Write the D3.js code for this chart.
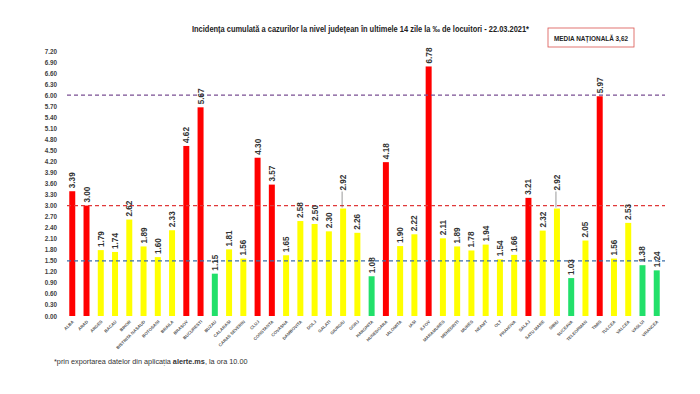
<!DOCTYPE html>
<html><head><meta charset="utf-8">
<script src="https://cdn.jsdelivr.net/npm/d3@7"></script>
<style>body{margin:0;background:#fff}svg{display:block}</style>
</head><body>
<script>
const counties = ["ALBA","ARAD","ARGES","BACAU","BIHOR","BISTRITA NASAUD","BOTOSANI","BRAILA","BRASOV","BUCURESTI","BUZAU","CALARASI","CARAS SEVERIN","CLUJ","CONSTANTA","COVASNA","DAMBOVITA","DOLJ","GALATI","GIURGIU","GORJ","HARGHITA","HUNEDOARA","IALOMITA","IASI","ILFOV","MARAMURES","MEHEDINTI","MURES","NEAMT","OLT","PRAHOVA","SALAJ","SATU MARE","SIBIU","SUCEAVA","TELEORMAN","TIMIS","TULCEA","VALCEA","VASLUI","VRANCEA"];
const values = [3.39,3.00,1.79,1.74,2.62,1.89,1.60,2.33,4.62,5.67,1.15,1.81,1.56,4.30,3.57,1.65,2.58,2.50,2.30,2.92,2.26,1.08,4.18,1.90,2.22,6.78,2.11,1.89,1.78,1.94,1.54,1.66,3.21,2.32,2.92,1.03,2.05,5.97,1.56,2.53,1.38,1.24];
const yTicks = [0,0.3,0.6,0.9,1.2,1.5,1.8,2.1,2.4,2.7,3.0,3.3,3.6,3.9,4.2,4.5,4.8,5.1,5.4,5.7,6.0,6.3,6.6,6.9,7.2];
const thresholds = [6.0,3.0,1.5];
const thresholdColors = ["#7a4f93","#e0393a","#3d6fa8"];
const calloutCounties = ["GIURGIU","SIBIU"];
const title = "Incidența cumulată a cazurilor la nivel județean în ultimele 14 zile la ‰ de locuitori - 22.03.2021*";
const mediaLabel = "MEDIA NAȚIONALĂ 3,62";

const W=700,H=394;
const svg=d3.select("body").append("svg").attr("width",W).attr("height",H);
const x=d3.scaleBand().domain(counties).range([61,668]).padding(0.58);
const y=d3.scaleLinear().domain([0,7.2]).range([316,51]);
const color=v=>v>=3?"#ff0000":(v>=1.5?"#ffff00":"#22e06a");
const font="'Liberation Sans',Arial,sans-serif";

// y axis labels
const yAxis=d3.axisLeft(y).tickValues(yTicks).tickFormat(d3.format(".2f")).tickSize(0).tickPadding(0);
const ga=svg.append("g").attr("transform","translate(57,0)").call(yAxis);
ga.select(".domain").remove();
ga.selectAll("text").attr("font-family",font).attr("font-size",6.3).attr("font-weight","bold").attr("fill","#404040");

// bars
svg.selectAll("rect.bar").data(counties).join("rect").attr("class","bar")
 .attr("x",d=>x(d)).attr("width",x.bandwidth())
 .attr("y",(d,i)=>y(values[i])).attr("height",(d,i)=>y(0)-y(values[i]))
 .attr("fill",(d,i)=>color(values[i]));

// threshold lines
svg.selectAll("line.th").data(thresholds).join("line").attr("class","th")
 .attr("x1",67).attr("x2",665).attr("y1",d=>y(d)).attr("y2",d=>y(d))
 .attr("stroke",(d,i)=>thresholdColors[i]).attr("stroke-width",1.2).attr("stroke-dasharray","4,3");

// value labels
const off=d=>calloutCounties.includes(d)?18:3;
svg.selectAll("line.lead").data(counties.filter(d=>calloutCounties.includes(d))).join("line").attr("class","lead")
 .attr("x1",d=>x(d)+x.bandwidth()/2-1).attr("x2",d=>x(d)+x.bandwidth()/2-1)
 .attr("y1",d=>y(values[counties.indexOf(d)])-1).attr("y2",d=>y(values[counties.indexOf(d)])-off(d)+1)
 .attr("stroke","#555").attr("stroke-width",0.6);
svg.selectAll("text.val").data(counties).join("text").attr("class","val")
 .attr("transform",(d,i)=>`translate(${x(d)+x.bandwidth()/2+3},${y(values[i])-off(d)}) rotate(-90)`)
 .attr("font-family",font).attr("font-size",8.2).attr("font-weight","bold").attr("fill","#333")
 .text((d,i)=>values[i].toFixed(2));

// x labels
svg.selectAll("text.xl").data(counties).join("text").attr("class","xl")
 .attr("transform",d=>`translate(${x(d)+x.bandwidth()/2+2},${322}) rotate(-45)`)
 .attr("text-anchor","end").attr("font-family","Arial,sans-serif").attr("font-size",4.3).attr("font-weight","bold").attr("fill","#555")
 .text(d=>d);

// title
svg.append("text").attr("x",192).attr("y",32)
 .attr("textLength",337).attr("lengthAdjust","spacingAndGlyphs")
 .attr("font-family",font).attr("font-size",8.2).attr("font-weight","bold").attr("fill","#222").text(title);

// media box
svg.append("rect").attr("x",548).attr("y",28).attr("width",86).attr("height",19).attr("fill","#fff").attr("stroke","#d9534f").attr("stroke-width",0.8);
svg.append("text").attr("x",554).attr("y",41)
 .attr("textLength",74).attr("lengthAdjust","spacingAndGlyphs")
 .attr("font-family",font).attr("font-size",8).attr("font-weight","bold").attr("fill","#222").text(mediaLabel);

// footnote
const fn=svg.append("text").attr("x",54).attr("y",364).attr("font-family","Arial,sans-serif").attr("font-size",7.3).attr("fill","#333");
fn.append("tspan").text("*prin exportarea datelor din aplicația ");
fn.append("tspan").attr("font-weight","bold").text("alerte.ms");
fn.append("tspan").text(", la ora 10.00");
</script>
</body></html>
